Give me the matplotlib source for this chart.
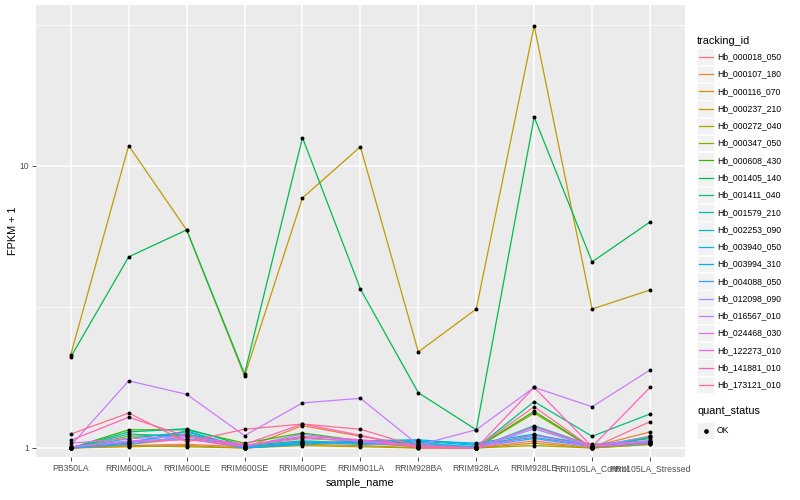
import numpy as np
import matplotlib.pyplot as plt
from matplotlib.lines import Line2D
from matplotlib.patches import Rectangle

plt.rcParams['font.family'] = ['Liberation Sans', 'DejaVu Sans']

samples = ['PB350LA', 'RRIM600LA', 'RRIM600LE', 'RRIM600SE', 'RRIM600PE', 'RRIM901LA',
           'RRIM928BA', 'RRIM928LA', 'RRIM928LE', 'RRII105LA_Control', 'RRII105LA_Stressed']

tracking_ids = ['Hb_000018_050', 'Hb_000107_180', 'Hb_000116_070', 'Hb_000237_210',
                'Hb_000272_040', 'Hb_000347_050', 'Hb_000608_430', 'Hb_001405_140',
                'Hb_001411_040', 'Hb_001579_210', 'Hb_002253_090', 'Hb_003940_050',
                'Hb_003994_310', 'Hb_004088_050', 'Hb_012098_090', 'Hb_016567_010',
                'Hb_024468_030', 'Hb_122273_010', 'Hb_141881_010', 'Hb_173121_010']

# FPKM + 1, one row per tracking_id, one column per sample
fpkm = [
    [1.00, 1.02, 1.03, 1.01, 1.05, 1.04, 1.01, 1.00, 1.06, 1.00, 1.03],
    [1.00, 1.03, 1.08, 1.00, 1.20, 1.10, 1.02, 1.00, 1.19, 1.01, 1.14],
    [1.00, 1.01, 1.02, 1.00, 1.02, 1.01, 1.00, 1.00, 1.04, 1.00, 1.05],
    [2.14, 11.8, 5.93, 1.80, 7.70, 11.7, 2.19, 3.11, 31.4, 3.11, 3.63],
    [1.00, 1.02, 1.01, 1.00, 1.03, 1.02, 1.00, 1.00, 1.02, 1.00, 1.03],
    [1.00, 1.10, 1.12, 1.02, 1.09, 1.05, 1.01, 1.00, 1.33, 1.00, 1.09],
    [1.00, 1.16, 1.16, 1.04, 1.13, 1.06, 1.02, 1.00, 1.35, 1.00, 1.10],
    [2.10, 4.76, 5.93, 1.83, 12.6, 3.66, 1.57, 1.16, 14.9, 4.57, 6.33],
    [1.00, 1.14, 1.17, 1.02, 1.06, 1.04, 1.05, 1.00, 1.46, 1.10, 1.32],
    [1.00, 1.12, 1.10, 1.01, 1.05, 1.04, 1.03, 1.00, 1.20, 1.02, 1.08],
    [1.00, 1.08, 1.14, 1.00, 1.04, 1.05, 1.06, 1.02, 1.11, 1.03, 1.06],
    [1.00, 1.05, 1.12, 1.00, 1.03, 1.06, 1.07, 1.03, 1.09, 1.02, 1.04],
    [1.00, 1.04, 1.15, 1.00, 1.04, 1.05, 1.06, 1.04, 1.12, 1.01, 1.05],
    [1.00, 1.03, 1.10, 1.00, 1.05, 1.03, 1.04, 1.01, 1.08, 1.01, 1.04],
    [1.01, 1.06, 1.08, 1.01, 1.12, 1.05, 1.02, 1.00, 1.17, 1.01, 1.10],
    [1.02, 1.73, 1.55, 1.106, 1.445, 1.50, 1.025, 1.16, 1.64, 1.40, 1.89],
    [1.04, 1.08, 1.10, 1.02, 1.08, 1.06, 1.01, 1.00, 1.19, 1.02, 1.06],
    [1.01, 1.05, 1.07, 1.02, 1.10, 1.07, 1.02, 1.00, 1.11, 1.01, 1.05],
    [1.065, 1.285, 1.10, 1.03, 1.216, 1.11, 1.00, 1.00, 1.64, 1.01, 1.64],
    [1.12, 1.33, 1.05, 1.165, 1.216, 1.165, 1.01, 1.00, 1.40, 1.00, 1.24],
]

# ggplot hue palette, 20 levels
colors = ['#F8766D', '#EA8331', '#D89000', '#C09B00', '#A3A500', '#7CAE00', '#39B600',
          '#00BB4E', '#00BF7D', '#00C1A3', '#00BFC4', '#00BAE0', '#00B0F6', '#35A2FF',
          '#9590FF', '#C77CFF', '#E76BF3', '#FA62DB', '#FF62BC', '#FF6C91']

fig = plt.figure(figsize=(8, 5), dpi=100)
ax = fig.add_axes([0.045, 0.086, 0.811, 0.904])
ax.set_facecolor('#EBEBEB')

x = np.arange(len(samples))
for vals, c in zip(fpkm, colors):
    ax.plot(x, vals, color=c, lw=0.9, zorder=3)
for vals in fpkm:
    ax.scatter(x, vals, s=8, color='black', zorder=4, linewidths=0)

ax.set_yscale('log')
ax.set_yticks([1, 10])
ax.set_yticklabels(['1', '10'])
ax.set_yticks([10 ** 0.5, 10 ** 1.5], minor=True)
ax.yaxis.set_minor_formatter(plt.NullFormatter())
ax.set_xticks(x)
ax.set_xticklabels(samples)
ax.set_ylim(0.929, 37.2)
ax.set_xlim(-0.6, len(samples) - 0.4)

ax.grid(True, which='major', color='white', lw=1.1, zorder=1)
ax.grid(True, which='minor', axis='y', color='white', lw=0.55, zorder=1)
ax.set_axisbelow(True)
for s in ax.spines.values():
    s.set_visible(False)
ax.tick_params(which='major', length=3, width=0.6, color='#333333',
               labelsize=6.2, labelcolor='#4D4D4D', pad=2)
ax.tick_params(which='minor', length=0)

ax.set_xlabel('sample_name', fontsize=7.8, labelpad=4)
ax.set_ylabel('FPKM + 1', fontsize=7.8, labelpad=1)

# legend: tracking_id
W, H = 800, 500
fig.text(697 / W, 1 - 40.5 / H, 'tracking_id', fontsize=7.8, va='center', ha='left')
step = 17.28
for i, (tid, c) in enumerate(zip(tracking_ids, colors)):
    yc = 56.7 + i * step
    fig.add_artist(Rectangle((697 / W, 1 - (yc + 8.3) / H), 17 / W, 16.6 / H,
                             transform=fig.transFigure, facecolor='#F2F2F2',
                             edgecolor='white', lw=0.5))
    fig.add_artist(Line2D([698.5 / W, 712.5 / W], [1 - yc / H, 1 - yc / H],
                          transform=fig.transFigure, color=c, lw=0.9))
    fig.text(717 / W, 1 - yc / H, tid, fontsize=6.2, va='center', ha='left')

# legend: quant_status
fig.text(697 / W, 1 - 411 / H, 'quant_status', fontsize=7.8, va='center', ha='left')
yc = 430.5
fig.add_artist(Rectangle((697 / W, 1 - (yc + 8.3) / H), 17 / W, 16.6 / H,
                         transform=fig.transFigure, facecolor='#F2F2F2',
                         edgecolor='white', lw=0.5))
fig.add_artist(Line2D([705.5 / W], [1 - yc / H], transform=fig.transFigure,
                      marker='o', ms=2.4, color='black', lw=0))
fig.text(717 / W, 1 - yc / H, 'OK', fontsize=6.2, va='center', ha='left')

fig.savefig('out.png', dpi=100)
